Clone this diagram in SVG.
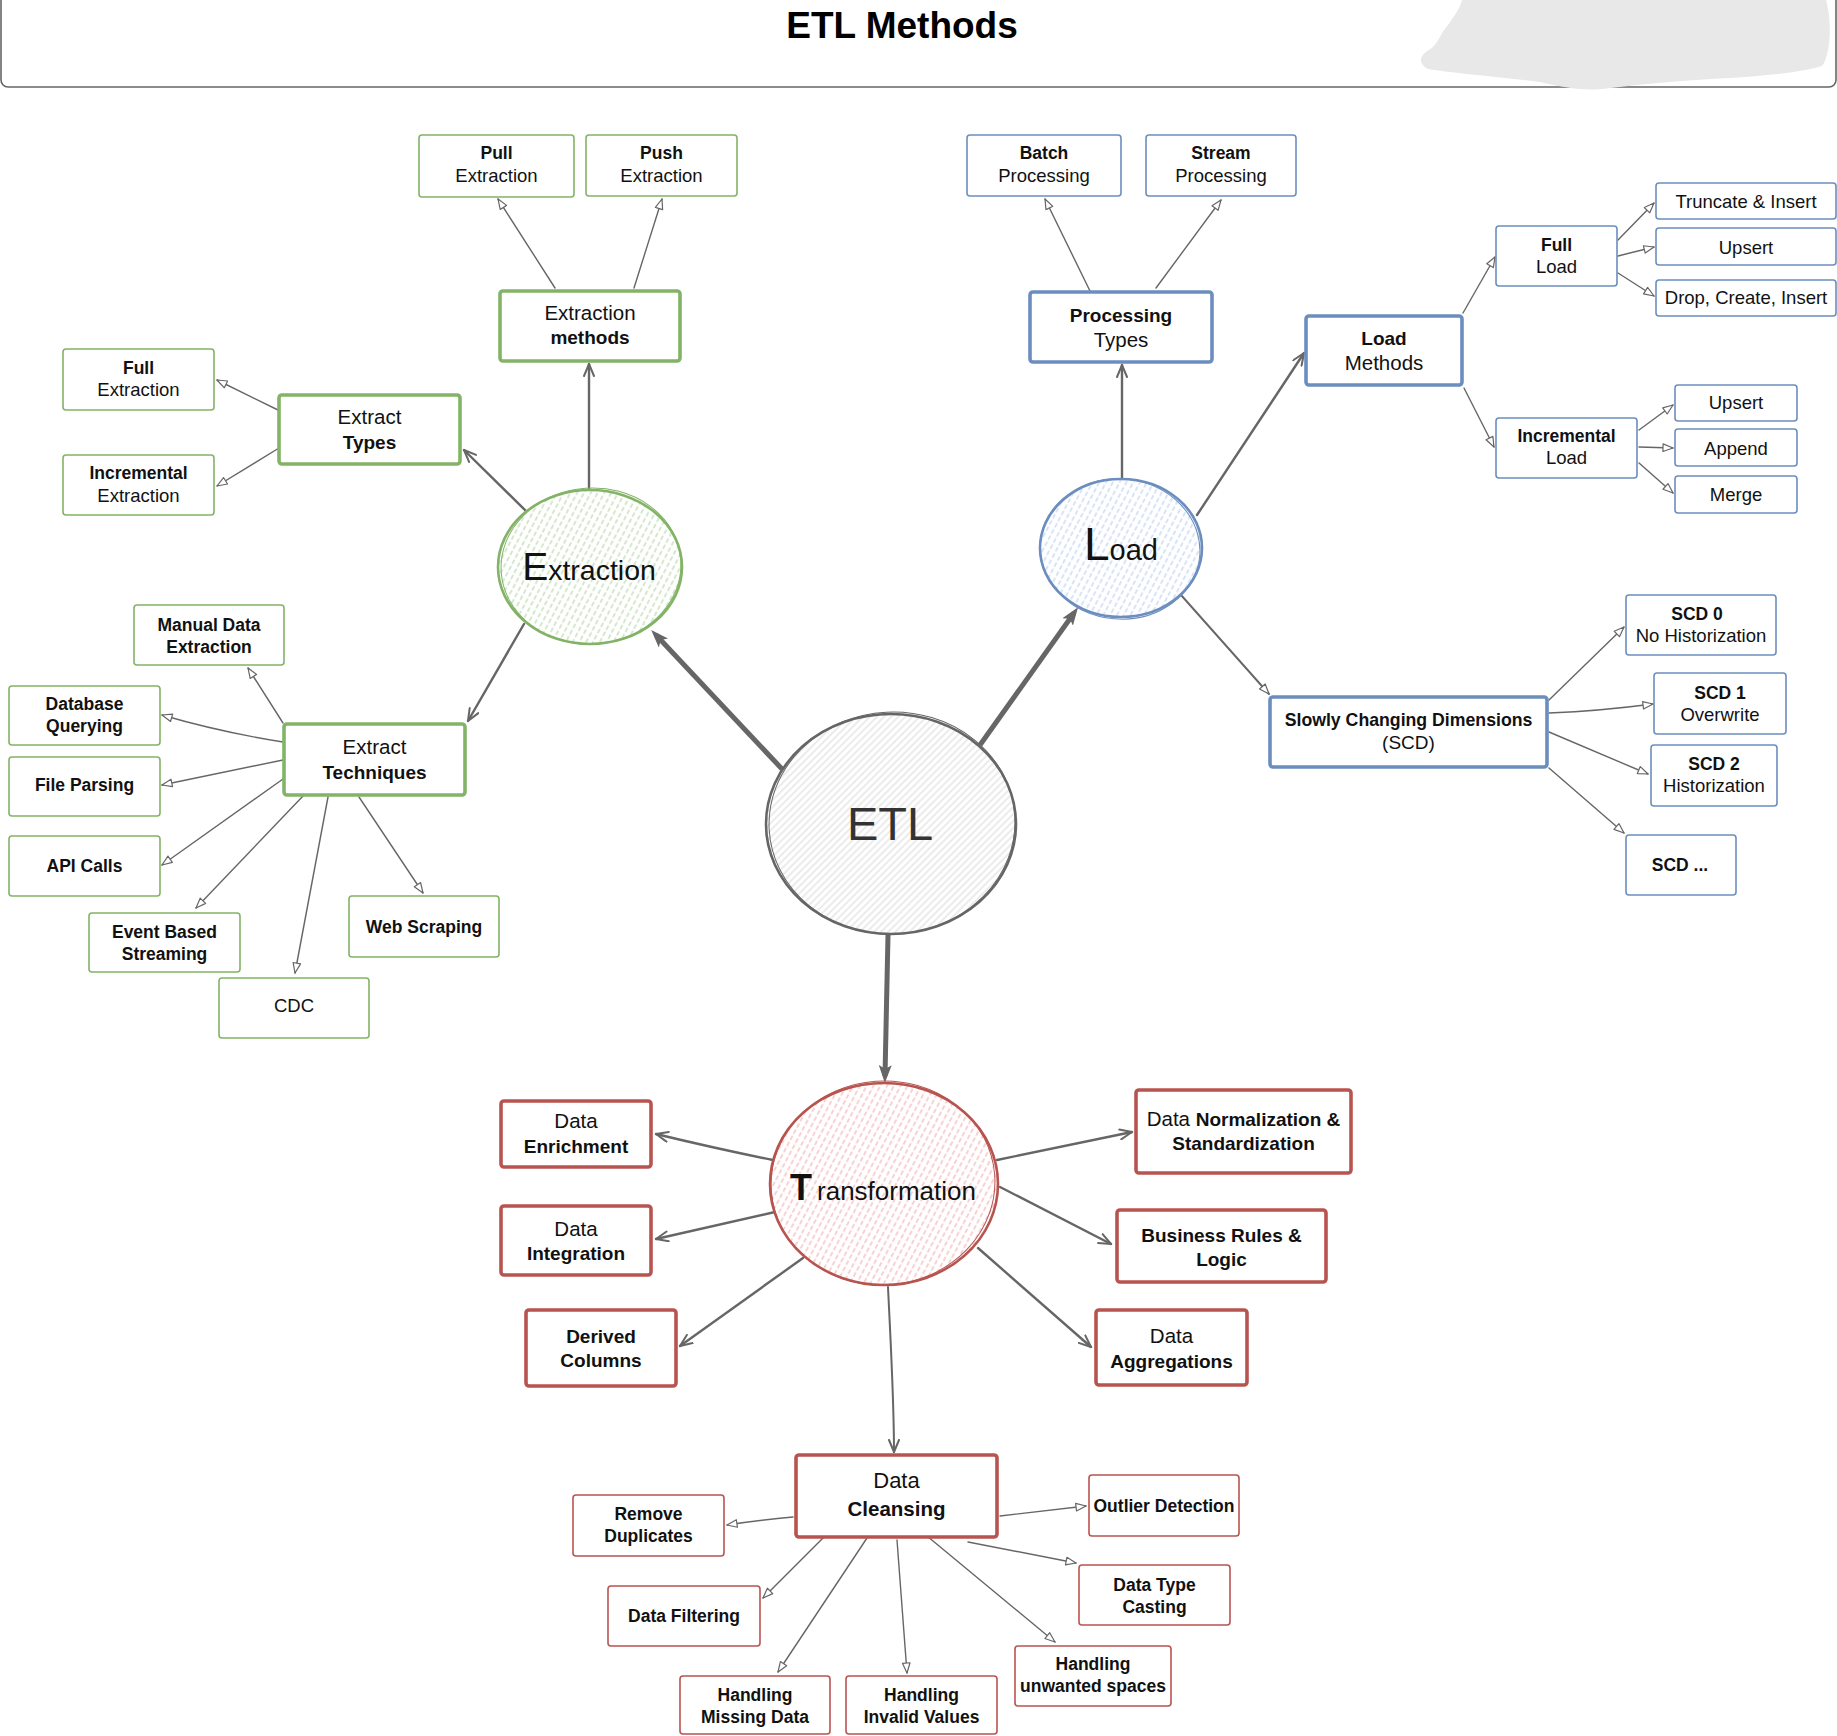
<svg xmlns="http://www.w3.org/2000/svg" width="1837" height="1736" viewBox="0 0 1837 1736">
<style>
.t{font-family:"Liberation Sans",Arial,sans-serif;fill:#111;text-anchor:middle}
.s{font-size:18.5px}
.sb{font-size:17.5px;font-weight:bold}
.k{font-size:20.5px}
.kb{font-size:19px;font-weight:bold}
.gb{fill:#fff;stroke:#82b366;stroke-width:1.6}
.bb{fill:#fff;stroke:#6c8ebf;stroke-width:1.6}
.rb{fill:#fff;stroke:#b85450;stroke-width:1.6}
.thick{stroke-width:3.6}
.c{fill:none;stroke:#666;stroke-linecap:round}
.c1{stroke-width:1.4;marker-end:url(#ah)}
.c2{stroke-width:2.4;marker-end:url(#am)}
.c3{stroke-width:5;stroke-linecap:butt;marker-end:url(#af)}
</style>
<defs>
  <!-- hollow head for thin links -->
  <marker id="ah" viewBox="0 0 12 10" refX="11" refY="5" markerWidth="12" markerHeight="10" markerUnits="userSpaceOnUse" orient="auto">
    <path d="M1,1.2 L11,5 L1,8.8 Z" fill="#fff" stroke="#666" stroke-width="1.2" stroke-linejoin="round"/>
  </marker>
  <!-- open V head for medium links -->
  <marker id="am" viewBox="0 0 14 12" refX="13" refY="6" markerWidth="14" markerHeight="12" markerUnits="userSpaceOnUse" orient="auto">
    <path d="M1,1 L13,6 L1,11" fill="none" stroke="#666" stroke-width="2" stroke-linejoin="round" stroke-linecap="round"/>
  </marker>
  <!-- solid head for the main branches -->
  <marker id="af" viewBox="0 0 18 14" refX="11" refY="7" markerWidth="18" markerHeight="14" markerUnits="userSpaceOnUse" orient="auto">
    <path d="M0,0.5 L18,7 L0,13.5 L4,7 Z" fill="#666"/>
  </marker>
  <!-- hachure fills -->
  <pattern id="hEtl" width="5" height="5" patternUnits="userSpaceOnUse" patternTransform="rotate(45)">
    <line x1="2" y1="0" x2="2" y2="5" stroke="#d8d8d8" stroke-width="1"/>
  </pattern>
  <pattern id="hG" width="6" height="7" patternUnits="userSpaceOnUse" patternTransform="rotate(28)">
    <line x1="3" y1="1" x2="3" y2="5" stroke="#b9d9aa" stroke-width="1.2" stroke-linecap="round"/>
  </pattern>
  <pattern id="hB" width="6" height="7" patternUnits="userSpaceOnUse" patternTransform="rotate(28)">
    <line x1="3" y1="1" x2="3" y2="5" stroke="#bcd2f2" stroke-width="1.2" stroke-linecap="round"/>
  </pattern>
  <pattern id="hR" width="6" height="7" patternUnits="userSpaceOnUse" patternTransform="rotate(28)">
    <line x1="3" y1="1" x2="3" y2="5" stroke="#f2b4b2" stroke-width="1.2" stroke-linecap="round"/>
  </pattern>
</defs>

<rect width="1837" height="1736" fill="#fff"/>

<!-- header band -->
<g id="header">
  <rect x="1" y="-20" width="1835" height="107" rx="7" fill="#fff" stroke="#666" stroke-width="1.6"/>
  <path d="M1462,0 L1826,0 C1832,20 1831,55 1822,66 C1800,73 1760,76 1730,78 C1690,80 1650,83 1602,89 C1582,91 1562,87 1540,82 C1500,77 1452,73 1428,69 C1417,63 1419,55 1432,48 C1440,40 1441,32 1448,25 C1455,15 1460,8 1462,0 Z" fill="#e8e8e8"/>
  <text x="902" y="38" style="font-family:'Liberation Sans',Arial,sans-serif;font-weight:bold;font-size:37px;fill:#000;text-anchor:middle">ETL Methods</text>
</g>

<!-- connectors -->
<g id="connectors">
  <!-- main branches -->
  <path class="c c3" d="M782,769 L656,635"/>
  <path class="c c3" d="M980,745 L1074,613"/>
  <path class="c c3" d="M888,935 L885,1076"/>
  <!-- extraction -->
  <path class="c c2" d="M589,490 L589,364"/>
  <path class="c c2" d="M526,511 L464,450"/>
  <path class="c c2" d="M524,624 L468,721"/>
  <path class="c c1" d="M555,288 L498,199"/>
  <path class="c c1" d="M634,288 L662,199"/>
  <path class="c c1" d="M278,410 L217,380"/>
  <path class="c c1" d="M279,448 L217,486"/>
  <path class="c c1" d="M283,723 L248,668"/>
  <path class="c c1" d="M283,742 Q220,732 162,715"/>
  <path class="c c1" d="M283,760 L162,785"/>
  <path class="c c1" d="M283,779 L162,865"/>
  <path class="c c1" d="M303,796 L196,908"/>
  <path class="c c1" d="M328,797 L295,973"/>
  <path class="c c1" d="M359,797 L423,893"/>
  <!-- load -->
  <path class="c c2" d="M1122,478 L1122,365"/>
  <path class="c c2" d="M1197,515 L1304,353"/>
  <path class="c c1" style="stroke-width:1.9" d="M1181,595 L1269,694"/>
  <path class="c c1" d="M1090,291 L1045,199"/>
  <path class="c c1" d="M1156,288 L1221,200"/>
  <path class="c c1" d="M1463,313 L1495,257"/>
  <path class="c c1" d="M1464,388 L1494,447"/>
  <path class="c c1" d="M1618,240 L1654,203"/>
  <path class="c c1" d="M1618,256 L1654,247"/>
  <path class="c c1" d="M1618,273 L1654,296"/>
  <path class="c c1" d="M1639,430 L1673,405"/>
  <path class="c c1" d="M1639,447 L1673,448"/>
  <path class="c c1" d="M1639,463 L1673,493"/>
  <path class="c c1" d="M1549,700 L1624,627"/>
  <path class="c c1" d="M1549,713 Q1600,711 1653,704"/>
  <path class="c c1" d="M1549,732 L1648,774"/>
  <path class="c c1" d="M1549,768 L1624,833"/>
  <!-- transformation -->
  <path class="c c2" d="M773,1160 Q718,1149 656,1134"/>
  <path class="c c2" d="M775,1212 L656,1239"/>
  <path class="c c2" d="M803,1258 L680,1346"/>
  <path class="c c2" d="M997,1160 L1132,1132"/>
  <path class="c c2" d="M1000,1187 L1111,1244"/>
  <path class="c c2" d="M978,1248 L1091,1347"/>
  <path class="c c2" style="stroke-width:2" d="M888,1287 C891,1350 894,1400 894,1452"/>
  <!-- cleansing -->
  <path class="c c1" d="M793,1517 Q760,1520 727,1525"/>
  <path class="c c1" d="M1000,1516 L1086,1506"/>
  <path class="c c1" d="M968,1542 L1076,1563"/>
  <path class="c c1" d="M826,1535 L763,1598"/>
  <path class="c c1" d="M867,1538 L778,1672"/>
  <path class="c c1" d="M897,1540 L907,1673"/>
  <path class="c c1" d="M927,1536 L1055,1642"/>
</g>

<!-- centre -->
<g id="etl">
  <ellipse cx="891" cy="824" rx="125" ry="110" fill="#fff"/>
  <ellipse cx="891" cy="824" rx="125" ry="110" fill="url(#hEtl)" stroke="#666" stroke-width="2.6"/>
  <ellipse cx="892" cy="823" rx="123" ry="111" fill="none" stroke="#666" stroke-width="1" transform="rotate(-3 892 823)"/>
  <text class="t" x="890" y="840" style="font-size:47px;fill:#333">ETL</text>
</g>

<!-- extraction branch -->
<g id="extraction">
  <ellipse cx="590" cy="567" rx="92" ry="77" fill="#fff"/>
  <ellipse cx="590" cy="567" rx="92" ry="77" fill="url(#hG)" stroke="#82b366" stroke-width="2.6"/>
  <ellipse cx="591" cy="566" rx="90" ry="78" fill="none" stroke="#82b366" stroke-width="1" transform="rotate(-4 591 566)"/>
  <text class="t" x="589" y="580"><tspan style="font-size:39px">E</tspan><tspan style="font-size:28.5px">xtraction</tspan></text>
</g>
<g id="extraction-methods">
  <rect class="gb thick" x="500" y="291" width="180" height="70" rx="3"/>
  <text class="t"><tspan class="k" x="590" y="320">Extraction</tspan><tspan class="kb" x="590" y="344">methods</tspan></text>
</g>
<g id="pull-extraction">
  <rect class="gb" x="419" y="135" width="155" height="62" rx="3"/>
  <text class="t"><tspan class="sb" x="496.5" y="159">Pull</tspan><tspan class="s" x="496.5" y="182">Extraction</tspan></text>
</g>
<g id="push-extraction">
  <rect class="gb" x="586" y="135" width="151" height="61" rx="3"/>
  <text class="t"><tspan class="sb" x="661.5" y="159">Push</tspan><tspan class="s" x="661.5" y="182">Extraction</tspan></text>
</g>
<g id="extract-types">
  <rect class="gb thick" x="279" y="395" width="181" height="69" rx="3"/>
  <text class="t"><tspan class="k" x="369.5" y="424">Extract</tspan><tspan class="kb" x="369.5" y="449">Types</tspan></text>
</g>
<g id="full-extraction">
  <rect class="gb" x="63" y="349" width="151" height="61" rx="3"/>
  <text class="t"><tspan class="sb" x="138.5" y="374">Full</tspan><tspan class="s" x="138.5" y="396">Extraction</tspan></text>
</g>
<g id="incremental-extraction">
  <rect class="gb" x="63" y="455" width="151" height="60" rx="3"/>
  <text class="t"><tspan class="sb" x="138.5" y="479">Incremental</tspan><tspan class="s" x="138.5" y="502">Extraction</tspan></text>
</g>
<g id="extract-techniques">
  <rect class="gb thick" x="284" y="724" width="181" height="71" rx="3"/>
  <text class="t"><tspan class="k" x="374.5" y="754">Extract</tspan><tspan class="kb" x="374.5" y="779">Techniques</tspan></text>
</g>
<g id="manual-data-extraction">
  <rect class="gb" x="134" y="605" width="150" height="60" rx="3"/>
  <text class="t"><tspan class="sb" x="209" y="630.5">Manual Data</tspan><tspan class="sb" x="209" y="653">Extraction</tspan></text>
</g>
<g id="database-querying">
  <rect class="gb" x="9" y="686" width="151" height="59" rx="3"/>
  <text class="t"><tspan class="sb" x="84.5" y="710">Database</tspan><tspan class="sb" x="84.5" y="732">Querying</tspan></text>
</g>
<g id="file-parsing">
  <rect class="gb" x="9" y="757" width="151" height="59" rx="3"/>
  <text class="t sb" x="84.5" y="791">File Parsing</text>
</g>
<g id="api-calls">
  <rect class="gb" x="9" y="836" width="151" height="60" rx="3"/>
  <text class="t sb" x="84.5" y="872">API Calls</text>
</g>
<g id="event-based-streaming">
  <rect class="gb" x="89" y="913" width="151" height="59" rx="3"/>
  <text class="t"><tspan class="sb" x="164.5" y="937.5">Event Based</tspan><tspan class="sb" x="164.5" y="960">Streaming</tspan></text>
</g>
<g id="cdc">
  <rect class="gb" x="219" y="978" width="150" height="60" rx="3"/>
  <text class="t s" x="294" y="1012">CDC</text>
</g>
<g id="web-scraping">
  <rect class="gb" x="349" y="896" width="150" height="61" rx="3"/>
  <text class="t sb" x="424" y="933">Web Scraping</text>
</g>

<!-- load branch -->
<g id="load">
  <ellipse cx="1121" cy="548" rx="81" ry="69" fill="#fff"/>
  <ellipse cx="1121" cy="548" rx="81" ry="69" fill="url(#hB)" stroke="#6c8ebf" stroke-width="2.6"/>
  <ellipse cx="1120" cy="549" rx="80" ry="70" fill="none" stroke="#6c8ebf" stroke-width="1" transform="rotate(5 1120 549)"/>
  <text class="t" x="1121" y="560"><tspan style="font-size:46px">L</tspan><tspan style="font-size:29px">oad</tspan></text>
</g>
<g id="processing-types">
  <rect class="bb thick" x="1030" y="292" width="182" height="70" rx="3"/>
  <text class="t"><tspan class="kb" x="1121" y="321.5">Processing</tspan><tspan class="k" x="1121" y="346.5">Types</tspan></text>
</g>
<g id="batch-processing">
  <rect class="bb" x="967" y="135" width="154" height="61" rx="3"/>
  <text class="t"><tspan class="sb" x="1044" y="159">Batch</tspan><tspan class="s" x="1044" y="182">Processing</tspan></text>
</g>
<g id="stream-processing">
  <rect class="bb" x="1146" y="135" width="150" height="61" rx="3"/>
  <text class="t"><tspan class="sb" x="1221" y="159">Stream</tspan><tspan class="s" x="1221" y="182">Processing</tspan></text>
</g>
<g id="load-methods">
  <rect class="bb thick" x="1306" y="316" width="156" height="69" rx="3"/>
  <text class="t"><tspan class="kb" x="1384" y="345">Load</tspan><tspan class="k" x="1384" y="370">Methods</tspan></text>
</g>
<g id="full-load">
  <rect class="bb" x="1496" y="226" width="121" height="60" rx="3"/>
  <text class="t"><tspan class="sb" x="1556.5" y="251">Full</tspan><tspan class="s" x="1556.5" y="273">Load</tspan></text>
</g>
<g id="truncate-insert">
  <rect class="bb" x="1656" y="183" width="180" height="36" rx="3"/>
  <text class="t s" x="1746" y="208">Truncate &amp; Insert</text>
</g>
<g id="full-upsert">
  <rect class="bb" x="1656" y="228" width="180" height="37" rx="3"/>
  <text class="t s" x="1746" y="253.5">Upsert</text>
</g>
<g id="drop-create-insert">
  <rect class="bb" x="1656" y="280" width="180" height="36" rx="3"/>
  <text class="t s" x="1746" y="304">Drop, Create, Insert</text>
</g>
<g id="incremental-load">
  <rect class="bb" x="1496" y="418" width="141" height="60" rx="3"/>
  <text class="t"><tspan class="sb" x="1566.5" y="442">Incremental</tspan><tspan class="s" x="1566.5" y="464">Load</tspan></text>
</g>
<g id="incremental-upsert">
  <rect class="bb" x="1675" y="385" width="122" height="36" rx="3"/>
  <text class="t s" x="1736" y="409">Upsert</text>
</g>
<g id="append">
  <rect class="bb" x="1675" y="429" width="122" height="37" rx="3"/>
  <text class="t s" x="1736" y="455">Append</text>
</g>
<g id="merge">
  <rect class="bb" x="1675" y="476" width="122" height="37" rx="3"/>
  <text class="t s" x="1736" y="500.5">Merge</text>
</g>
<g id="scd">
  <rect class="bb thick" x="1270" y="697" width="277" height="70" rx="3"/>
  <text class="t"><tspan x="1408.5" y="726" style="font-size:17.7px;font-weight:bold">Slowly Changing Dimensions</tspan><tspan x="1408.5" y="749" style="font-size:19px">(SCD)</tspan></text>
</g>
<g id="scd-0">
  <rect class="bb" x="1626" y="595" width="150" height="60" rx="3"/>
  <text class="t"><tspan class="sb" x="1697" y="620">SCD 0</tspan><tspan class="s" x="1701" y="642">No Historization</tspan></text>
</g>
<g id="scd-1">
  <rect class="bb" x="1654" y="673" width="132" height="61" rx="3"/>
  <text class="t"><tspan class="sb" x="1720" y="698.5">SCD 1</tspan><tspan class="s" x="1720" y="721">Overwrite</tspan></text>
</g>
<g id="scd-2">
  <rect class="bb" x="1651" y="745" width="126" height="61" rx="3"/>
  <text class="t"><tspan class="sb" x="1714" y="770">SCD 2</tspan><tspan class="s" x="1714" y="792">Historization</tspan></text>
</g>
<g id="scd-more">
  <rect class="bb" x="1626" y="835" width="110" height="60" rx="3"/>
  <text class="t sb" x="1680" y="871">SCD ...</text>
</g>

<!-- transformation branch -->
<g id="transformation">
  <ellipse cx="884" cy="1184" rx="114" ry="101" fill="#fff"/>
  <ellipse cx="884" cy="1184" rx="114" ry="101" fill="url(#hR)" stroke="#b85450" stroke-width="2.6"/>
  <ellipse cx="883" cy="1183" rx="112" ry="102" fill="none" stroke="#b85450" stroke-width="1" transform="rotate(-4 883 1183)"/>
  <text class="t" x="883" y="1200"><tspan style="font-size:36px;font-weight:bold">T</tspan><tspan dx="5" style="font-size:26px">ransformation</tspan></text>
</g>
<g id="data-enrichment">
  <rect class="rb thick" x="501" y="1101" width="150" height="66" rx="3"/>
  <text class="t"><tspan class="k" x="576" y="1127.5">Data</tspan><tspan class="kb" x="576" y="1152.5">Enrichment</tspan></text>
</g>
<g id="data-integration">
  <rect class="rb thick" x="501" y="1206" width="150" height="69" rx="3"/>
  <text class="t"><tspan class="k" x="576" y="1235.5">Data</tspan><tspan class="kb" x="576" y="1260">Integration</tspan></text>
</g>
<g id="derived-columns">
  <rect class="rb thick" x="526" y="1310" width="150" height="76" rx="3"/>
  <text class="t"><tspan class="kb" x="601" y="1343">Derived</tspan><tspan class="kb" x="601" y="1366.5">Columns</tspan></text>
</g>
<g id="normalization">
  <rect class="rb thick" x="1136" y="1090" width="215" height="83" rx="3"/>
  <text class="t"><tspan x="1243.5" y="1125.5"><tspan class="k">Data </tspan><tspan class="kb">Normalization &amp;</tspan></tspan><tspan class="kb" x="1243.5" y="1150">Standardization</tspan></text>
</g>
<g id="business-rules">
  <rect class="rb thick" x="1117" y="1210" width="209" height="72" rx="3"/>
  <text class="t"><tspan class="kb" x="1221.5" y="1241.5">Business Rules &amp;</tspan><tspan class="kb" x="1221.5" y="1266">Logic</tspan></text>
</g>
<g id="data-aggregations">
  <rect class="rb thick" x="1096" y="1310" width="151" height="75" rx="3"/>
  <text class="t"><tspan class="k" x="1171.5" y="1343">Data</tspan><tspan class="kb" x="1171.5" y="1368">Aggregations</tspan></text>
</g>
<g id="data-cleansing">
  <rect class="rb thick" x="796" y="1455" width="201" height="82" rx="3"/>
  <text class="t"><tspan x="896.5" y="1488" style="font-size:22px">Data</tspan><tspan x="896.5" y="1516" style="font-size:20.5px;font-weight:bold">Cleansing</tspan></text>
</g>
<g id="remove-duplicates">
  <rect class="rb" x="573" y="1495" width="151" height="61" rx="3"/>
  <text class="t"><tspan class="sb" x="648.5" y="1520">Remove</tspan><tspan class="sb" x="648.5" y="1542">Duplicates</tspan></text>
</g>
<g id="data-filtering">
  <rect class="rb" x="608" y="1586" width="152" height="60" rx="3"/>
  <text class="t sb" x="684" y="1622">Data Filtering</text>
</g>
<g id="missing-data">
  <rect class="rb" x="680" y="1676" width="150" height="58" rx="3"/>
  <text class="t"><tspan class="sb" x="755" y="1700.5">Handling</tspan><tspan class="sb" x="755" y="1722.5">Missing Data</tspan></text>
</g>
<g id="invalid-values">
  <rect class="rb" x="846" y="1676" width="151" height="58" rx="3"/>
  <text class="t"><tspan class="sb" x="921.5" y="1700.5">Handling</tspan><tspan class="sb" x="921.5" y="1722.5">Invalid Values</tspan></text>
</g>
<g id="unwanted-spaces">
  <rect class="rb" x="1015" y="1646" width="156" height="60" rx="3"/>
  <text class="t"><tspan class="sb" x="1093" y="1670">Handling</tspan><tspan class="sb" x="1093" y="1692">unwanted spaces</tspan></text>
</g>
<g id="data-type-casting">
  <rect class="rb" x="1079" y="1565" width="151" height="60" rx="3"/>
  <text class="t"><tspan class="sb" x="1154.5" y="1590.5">Data Type</tspan><tspan class="sb" x="1154.5" y="1612.5">Casting</tspan></text>
</g>
<g id="outlier-detection">
  <rect class="rb" x="1089" y="1475" width="150" height="61" rx="3"/>
  <text class="t sb" x="1164" y="1511.5">Outlier Detection</text>
</g>
</svg>
